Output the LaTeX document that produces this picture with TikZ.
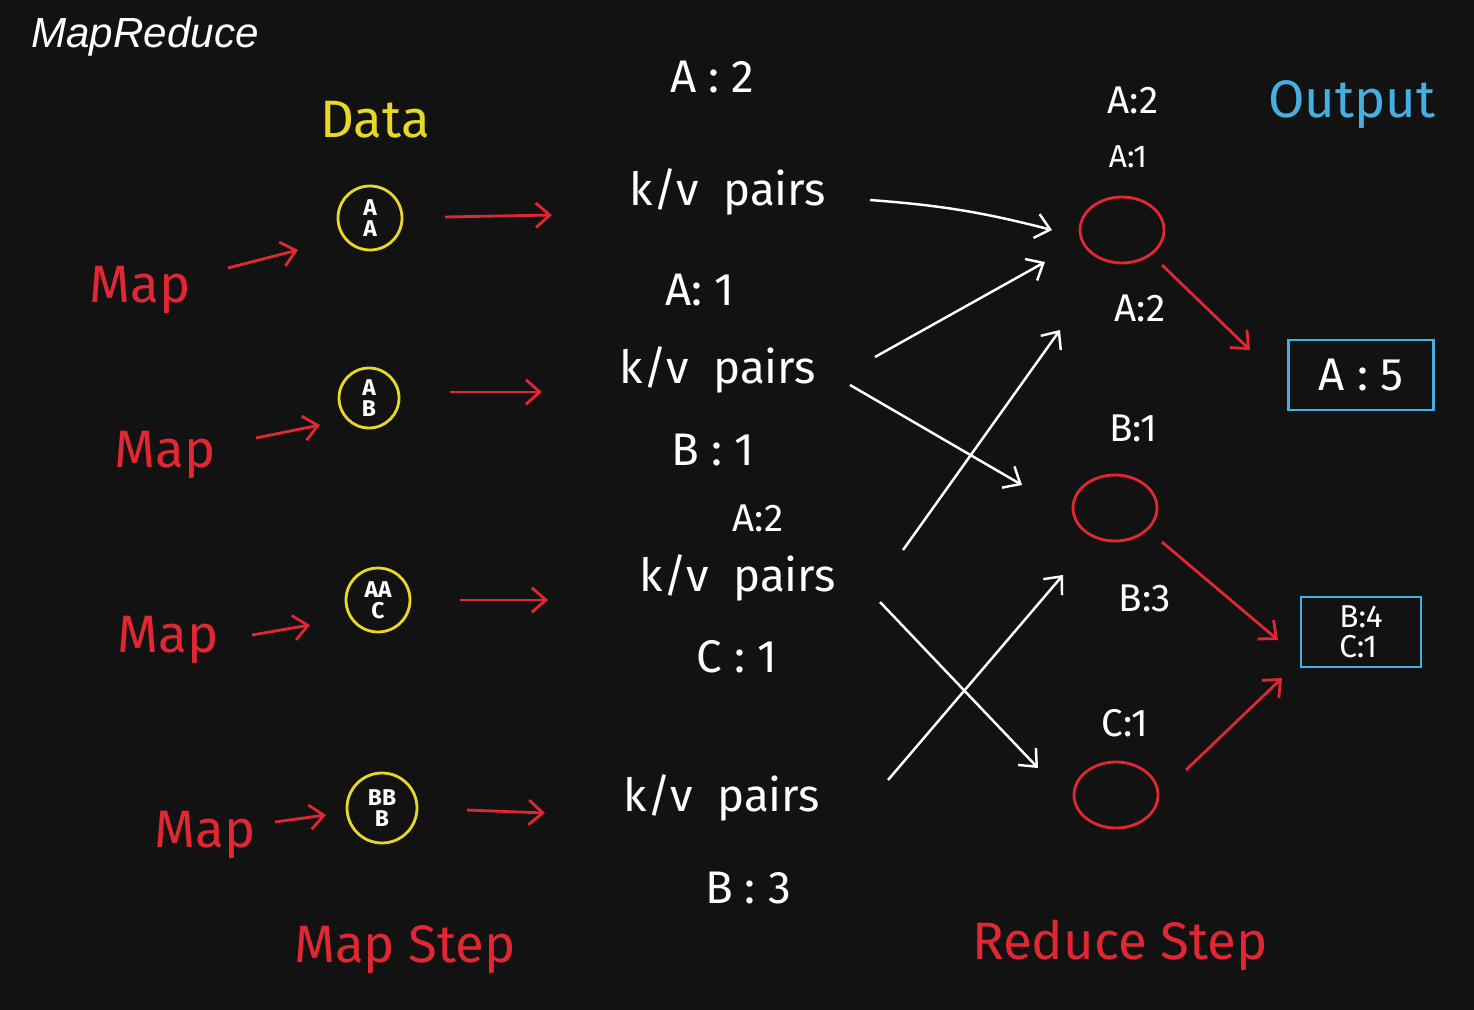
\documentclass[tikz,border=0pt]{standalone}
\usepackage{fontspec}
\usetikzlibrary{shapes.geometric,arrows.meta,calc}
\setmainfont{Fira Sans}
\newfontfamily\titlefont{Liberation Sans}
\definecolor{hred}{RGB}{225,40,50}
\definecolor{hyel}{RGB}{230,215,40}
\definecolor{hblue}{RGB}{70,175,225}
\begin{document}
\begin{tikzpicture}[x=0.02cm,y=-0.02cm,
  wt/.style={text=white,font=\fontsize{26}{28}\selectfont},
  lbl/.style={text=white,font=\fontsize{22}{24}\selectfont},
  rt/.style={text=hred,font=\fontsize{30}{32}\selectfont},
  ycirc/.style={draw=hyel,line width=1.6pt,circle,minimum size=1.28cm,inner sep=0pt,text=white,font=\fontsize{13}{12}\selectfont\bfseries,align=center},
  rell/.style={draw=hred,line width=1.6pt,ellipse,minimum width=1.68cm,minimum height=1.32cm},
  bbox/.style={draw=hblue,line width=1.6pt,text=white,inner sep=3pt,align=left},
  rar/.style={draw=hred,line width=1.6pt,-{Straight Barb[length=8pt,width=14pt]}},
  war/.style={draw=white,line width=1.4pt,-{Straight Barb[length=8pt,width=14pt]}}]
\fill[black!93] (0,0) rectangle (1474,1010);
\node[text=white,font=\titlefont\itshape\fontsize{24}{26}\selectfont] (title) at (145,37) {MapReduce};
\node[text=hyel,font=\fontsize{30}{32}\selectfont] (data) at (375,120) {Data};
\node[ycirc] (d1) at (370,218) {A\\A};
\node[ycirc,minimum size=1.2cm] (d2) at (369,398) {A\\B};
\node[ycirc] (d3) at (378,600) {AA\\C};
\node[ycirc,minimum size=1.4cm] (d4) at (382,808) {BB\\B};
\node[rt] (m1) at (140,290) {Map};
\node[rt] (m2) at (165,455) {Map};
\node[rt] (m3) at (168,640) {Map};
\node[rt] (m4) at (205,835) {Map};
\draw[rar] (228,268) -- (298,250);
\draw[rar] (256,438) -- (320,425);
\draw[rar] (252,635) -- (310,625);
\draw[rar] (275,822) -- (326,815);
\node[wt] (k1) at (728,192) {k/v\; pairs};
\node[wt] (k2) at (718,370) {k/v\; pairs};
\node[wt] (k3) at (738,578) {k/v\; pairs};
\node[wt] (k4) at (722,798) {k/v\; pairs};
\draw[rar] (445,217) -- (552,215);
\draw[rar] (450,392) -- (542,392);
\draw[rar] (460,600) -- (548,600);
\draw[rar] (467,810) -- (545,813);
\node[wt] (l1) at (712,77) {A : 2};
\node[wt] (l2) at (700,290) {A: 1};
\node[wt] (l3) at (713,450) {B : 1};
\node[lbl] (l4) at (758,518) {A:2};
\node[wt] (l5) at (737,657) {C : 1};
\node[wt] (l6) at (748,888) {B : 3};
\node[rell] (e1) at (1122,230) {};
\node[rell] (e2) at (1115,508) {};
\node[rell] (e3) at (1116,795) {};
\node[lbl] (r1) at (1133,100) {A:2};
\node[lbl,font=\fontsize{18}{20}\selectfont] (r2) at (1128,157) {A:1};
\node[lbl] (r3) at (1140,308) {A:2};
\node[lbl] (r4) at (1133,428) {B:1};
\node[lbl] (r5) at (1145,598) {B:3};
\node[lbl] (r6) at (1125,723) {C:1};
\draw[war] (870,200) to[bend left=5] (1052,230);
\draw[war] (875,357) -- (1045,262);
\draw[war] (850,385) -- (1022,485);
\draw[war] (903,550) -- (1060,330);
\draw[war] (880,602) -- (1038,768);
\draw[war] (888,780) -- (1063,575);
\node[text=hblue,font=\fontsize{30}{32}\selectfont] (out) at (1352,105) {Output};
\node[bbox,font=\fontsize{26}{28}\selectfont,minimum width=2.9cm,minimum height=1.4cm] (o1) at (1361,375) {A : 5};
\node[bbox,font=\fontsize{18}{17}\selectfont,minimum width=2.4cm,minimum height=1.4cm] (o2) at (1361,632) {B:4\\C:1};
\draw[rar] (1162,265) -- (1250,350);
\draw[rar] (1162,542) -- (1278,640);
\draw[rar] (1186,770) -- (1282,678);
\node[rt] (ms) at (405,950) {Map Step};
\node[rt] (rs) at (1120,945) {Reduce Step};
\end{tikzpicture}
\end{document}
